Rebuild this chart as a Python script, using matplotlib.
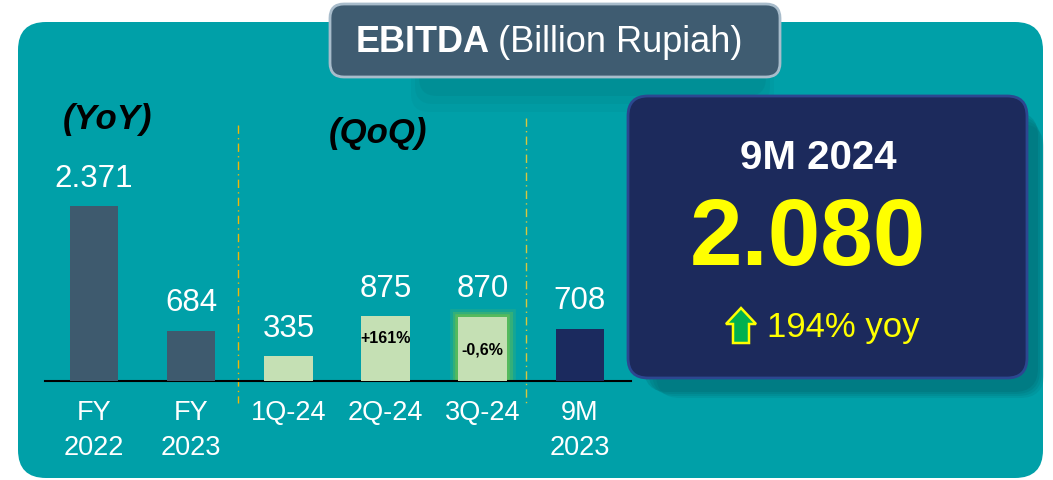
import matplotlib
matplotlib.use("Agg")
import matplotlib.pyplot as plt
from matplotlib.patches import FancyBboxPatch, Polygon

plt.rcParams["font.family"] = ["Liberation Sans", "DejaVu Sans"]

# data
categories = ["FY\n2022", "FY\n2023", "1Q-24", "2Q-24", "3Q-24", "9M\n2023"]
values = [2371, 684, 335, 875, 870, 708]
value_labels = ["2.371", "684", "335", "875", "870", "708"]
bar_colors = ["#3E5A6E", "#3E5A6E", "#C5E0B4", "#C5E0B4", "#C5E0B4", "#1B2A5E"]
growth_labels = {3: "+161%", 4: "-0,6%"}
headline_period = "9M 2024"
headline_value = "2.080"
headline_growth = "194% yoy"

TEAL = "#00A0A8"

fig = plt.figure(figsize=(10.53, 4.80), dpi=100)
fig.patch.set_facecolor("white")

# background layer in pixel coordinates
bg = fig.add_axes([0, 0, 1, 1])
bg.set_xlim(0, 1053)
bg.set_ylim(480, 0)
bg.axis("off")


def rbox(ax, x0, y0, x1, y1, r, **kw):
    p = FancyBboxPatch((x0, y0), x1 - x0, y1 - y0,
                       boxstyle=f"round,pad=0,rounding_size={r}", **kw)
    ax.add_patch(p)
    return p


# teal panel
rbox(bg, 18, 22, 1043, 478, 28, facecolor=TEAL, edgecolor="none")

# soft shadows
for i, a in enumerate([0.12, 0.14, 0.16, 0.2]):
    d = 16 - 4 * i
    rbox(bg, 640 + d, 108 + d, 1036 + d / 2, 390 + d / 2, 24,
         facecolor="#005A60", edgecolor="none", alpha=a)
for i, a in enumerate([0.08, 0.10, 0.14]):
    d = 14 - 4 * i
    rbox(bg, 425 - d, 50, 760 + d, 84 + 2 * d, 18,
         facecolor="#006A70", edgecolor="none", alpha=a)

# title box
rbox(bg, 330, 4, 780, 77, 14, facecolor="#3F5C71", edgecolor="#A8BCCB", linewidth=2)
t1 = bg.text(356, 43, "EBITDA", color="white", fontsize=26, fontweight="bold",
             ha="left", va="center")
bg.annotate("(Billion Rupiah)", xy=(1, 0), xycoords=t1, xytext=(6, 0),
            textcoords="offset points", ha="left", va="bottom",
            color="white", fontsize=26)

# headline panel
rbox(bg, 628, 96, 1027, 378, 20, facecolor="#1C2A5C", edgecolor="#2C4790", linewidth=2)
bg.text(818, 158, headline_period, color="white", fontsize=29, fontweight="bold",
        ha="center", va="center")
bg.text(808, 240, headline_value, color="#FFFF00", fontsize=68, fontweight="bold",
        ha="center", va="center")
bg.add_patch(Polygon([(741, 308), (756, 324), (749, 324), (749, 343),
                      (733, 343), (733, 324), (726, 324)], closed=True,
                     facecolor="#00B050", edgecolor="#FFFF00", linewidth=1.8))
bg.text(767, 328, headline_growth, color="#FFFF00", fontsize=25,
        ha="left", va="center")

# section labels and separators
bg.text(108, 120, "(YoY)", color="black", fontsize=25, fontweight="bold",
        fontstyle="italic", ha="center", va="center")
bg.text(378, 133, "(QoQ)", color="black", fontsize=25, fontweight="bold",
        fontstyle="italic", ha="center", va="center")
bg.plot([238, 238], [125, 403], color="#F2B705", linestyle=(0, (6, 3, 1, 3)), linewidth=1)
bg.plot([526, 526], [118, 403], color="#D8C640", linestyle=(0, (6, 3, 1, 3)), linewidth=1)

# bar chart
ax = fig.add_axes([45 / 1053, (480 - 381) / 480, 586 / 1053, 281 / 480])
ax.patch.set_alpha(0)
x = list(range(len(values)))

# glow for latest quarter
for lw, a in [(12, 0.2), (8, 0.35), (4, 0.6)]:
    ax.bar(x[4], values[4], width=0.5, color="none", edgecolor="#6CC24A",
           linewidth=lw, alpha=a)

bars = ax.bar(x, values, width=0.5, color=bar_colors, zorder=3)
for xi, v, lab in zip(x, values, value_labels):
    ax.annotate(lab, (xi, v), xytext=(0, 9), textcoords="offset points",
                ha="center", va="bottom", color="white", fontsize=22.5)
for idx, lab in growth_labels.items():
    yy = values[idx] * (0.66 if idx == 3 else 0.48)
    ax.text(x[idx], yy, lab, ha="center", va="center", color="black",
            fontsize=11.5, fontweight="bold", zorder=4)

ax.set_xlim(-0.504, 5.525)
ax.set_ylim(0, 3808)
ax.set_xticks(x)
ax.set_xticklabels(categories, color="white", fontsize=19.5, linespacing=1.45)
ax.tick_params(axis="x", length=0, pad=14)
ax.set_yticks([])
for s in ["top", "right", "left"]:
    ax.spines[s].set_visible(False)
ax.spines["bottom"].set_color("black")
ax.spines["bottom"].set_linewidth(1.5)

fig.savefig("out.png", dpi=100)
